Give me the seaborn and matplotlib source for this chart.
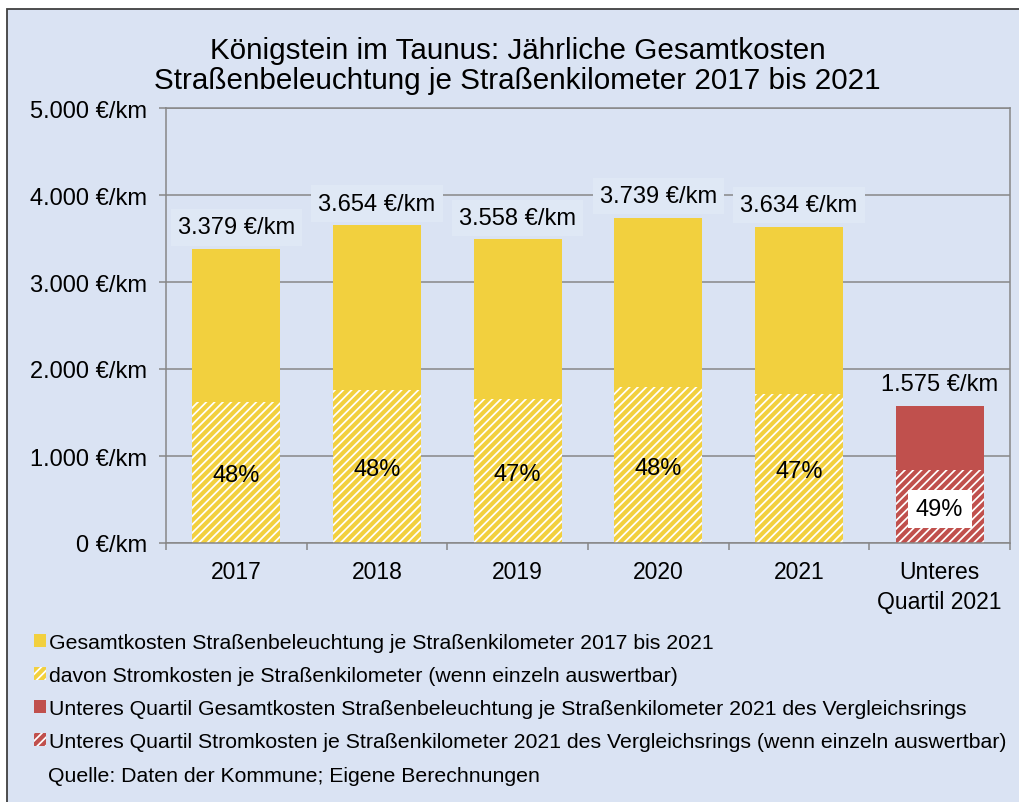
import matplotlib
matplotlib.use("Agg")
import matplotlib.pyplot as plt
from matplotlib.patches import Patch, Rectangle
import seaborn as sns
import pandas as pd

# Werte aus der Grafik (Balkenhöhen in €/km)
kategorien = ["2017", "2018", "2019", "2020", "2021", "Unteres\nQuartil 2021"]
gesamtkosten = [3379, 3654, 3490, 3739, 3634, 1575]
gesamt_beschriftung = [3379, 3654, 3558, 3739, 3634, 1575]
stromkosten = [1621, 1763, 1655, 1794, 1713, 841]
strom_anteil = [48, 48, 47, 48, 47, 49]
y_ticks = [0, 1000, 2000, 3000, 4000, 5000]

legende = [
    "Gesamtkosten Straßenbeleuchtung je Straßenkilometer 2017 bis 2021",
    "davon Stromkosten je Straßenkilometer (wenn einzeln auswertbar)",
    "Unteres Quartil Gesamtkosten Straßenbeleuchtung je Straßenkilometer 2021 des Vergleichsrings",
    "Unteres Quartil Stromkosten je Straßenkilometer 2021 des Vergleichsrings (wenn einzeln auswertbar)",
]
titel = "Königstein im Taunus: Jährliche Gesamtkosten\nStraßenbeleuchtung je Straßenkilometer 2017 bis 2021"
quelle = "Quelle: Daten der Kommune; Eigene Berechnungen"

GELB = "#f2d03e"
ROT = "#c0504d"
HG = "#dae3f3"
GRAU = "#878787"
farben = [GELB] * 5 + [ROT]

sns.set_style("white")
plt.rcParams["font.family"] = ["Liberation Sans", "DejaVu Sans"]
plt.rcParams["hatch.linewidth"] = 1.25
plt.rcParams["text.color"] = "black"
plt.rcParams["xtick.labelcolor"] = "black"
plt.rcParams["ytick.labelcolor"] = "black"


def euro(v):
    return f"{v:,.0f}".replace(",", ".") + " €/km"


df = pd.DataFrame({"kategorie": kategorien, "gesamt": gesamtkosten, "strom": stromkosten})

fig = plt.figure(figsize=(10.19, 8.03), dpi=100, facecolor="white")
# Rahmen / Hintergrund des Diagramms
fig.add_artist(Rectangle((7 / 1019, -0.02), 1.0, 1 - 10 / 803 + 0.02, transform=fig.transFigure,
                         facecolor=HG, edgecolor="#404040", lw=1.3, zorder=0))

ax = fig.add_axes([166 / 1019, 1 - 544 / 803, (1010 - 166) / 1019, (544 - 109) / 803])
ax.set_facecolor(HG)

sns.barplot(data=df, x="kategorie", y="gesamt", hue="kategorie", palette=farben, saturation=1,
            width=0.626, legend=False, ax=ax, linewidth=0)
n = len(ax.patches)
sns.barplot(data=df, x="kategorie", y="strom", hue="kategorie", palette=farben, saturation=1,
            width=0.626, legend=False, ax=ax, linewidth=0)
for p in ax.patches[n:]:
    p.set_hatch("////")
    p.set_edgecolor("white")
    p.set_linewidth(0)

ax.set_xlim(-0.5, len(kategorien) - 0.5)
ax.set_ylim(0, 5000)
ax.set_yticks(y_ticks)
ax.set_yticklabels([euro(v) for v in y_ticks])
ax.set_xlabel("")
ax.set_ylabel("")
ax.set_axisbelow(True)
ax.grid(axis="y", color=GRAU, lw=1.1)
for s in ax.spines.values():
    s.set_color(GRAU)
    s.set_linewidth(1.1)
ax.set_xticks(range(len(kategorien)))
ax.set_xticklabels(kategorien)
ax.set_xticks([i - 0.5 for i in range(len(kategorien) + 1)], minor=True)
ax.tick_params(axis="x", which="major", length=0, pad=12, labelsize=16.5)
ax.tick_params(axis="x", which="minor", length=5, width=1.1, color=GRAU, direction="out")
ax.tick_params(axis="y", length=5, width=1.1, color=GRAU, direction="out", pad=8.5, labelsize=17, left=True)
ax.tick_params(axis="x", bottom=True, which="both")
for t in ax.get_xticklabels():
    t.set_linespacing(1.4)

# Beschriftungen
for i, (h, lab) in enumerate(zip(gesamtkosten, gesamt_beschriftung)):
    box = None
    if i < 5:
        box = dict(boxstyle="square,pad=0.3", facecolor="#dfe8f5", edgecolor="none")
    ax.annotate(euro(lab), xy=(i, h), xytext=(0, 15.5), textcoords="offset points",
                ha="center", va="center", fontsize=17, bbox=box, zorder=5)

for i, (s, pct) in enumerate(zip(stromkosten, strom_anteil)):
    box = None
    if i == 5:
        box = dict(boxstyle="square,pad=0.35", facecolor="white", edgecolor="none")
    ax.text(i, s / 2 - 30, f"{pct}%", ha="center", va="center", fontsize=17, bbox=box, zorder=5)

fig.text(0.508, 1 - 66 / 803, titel, ha="center", va="center", fontsize=21.3, linespacing=1.08)

griffe = [
    Patch(facecolor=GELB, edgecolor="none", lw=0),
    Patch(facecolor=GELB, edgecolor="white", hatch="////", lw=0),
    Patch(facecolor=ROT, edgecolor="none", lw=0),
    Patch(facecolor=ROT, edgecolor="white", hatch="////", lw=0),
]
fig.legend(griffe, legende, loc="upper left", bbox_to_anchor=(34 / 1019, 1 - 634 / 803),
           frameon=False, fontsize=15.3, handlelength=0.56, handleheight=0.56, handletextpad=0.15,
           labelspacing=0.66, borderaxespad=0, borderpad=0)
fig.text(48 / 1019, 1 - 777 / 803, quelle, ha="left", va="center", fontsize=15.3)

fig.savefig("out.png", dpi=100, facecolor=fig.get_facecolor())
